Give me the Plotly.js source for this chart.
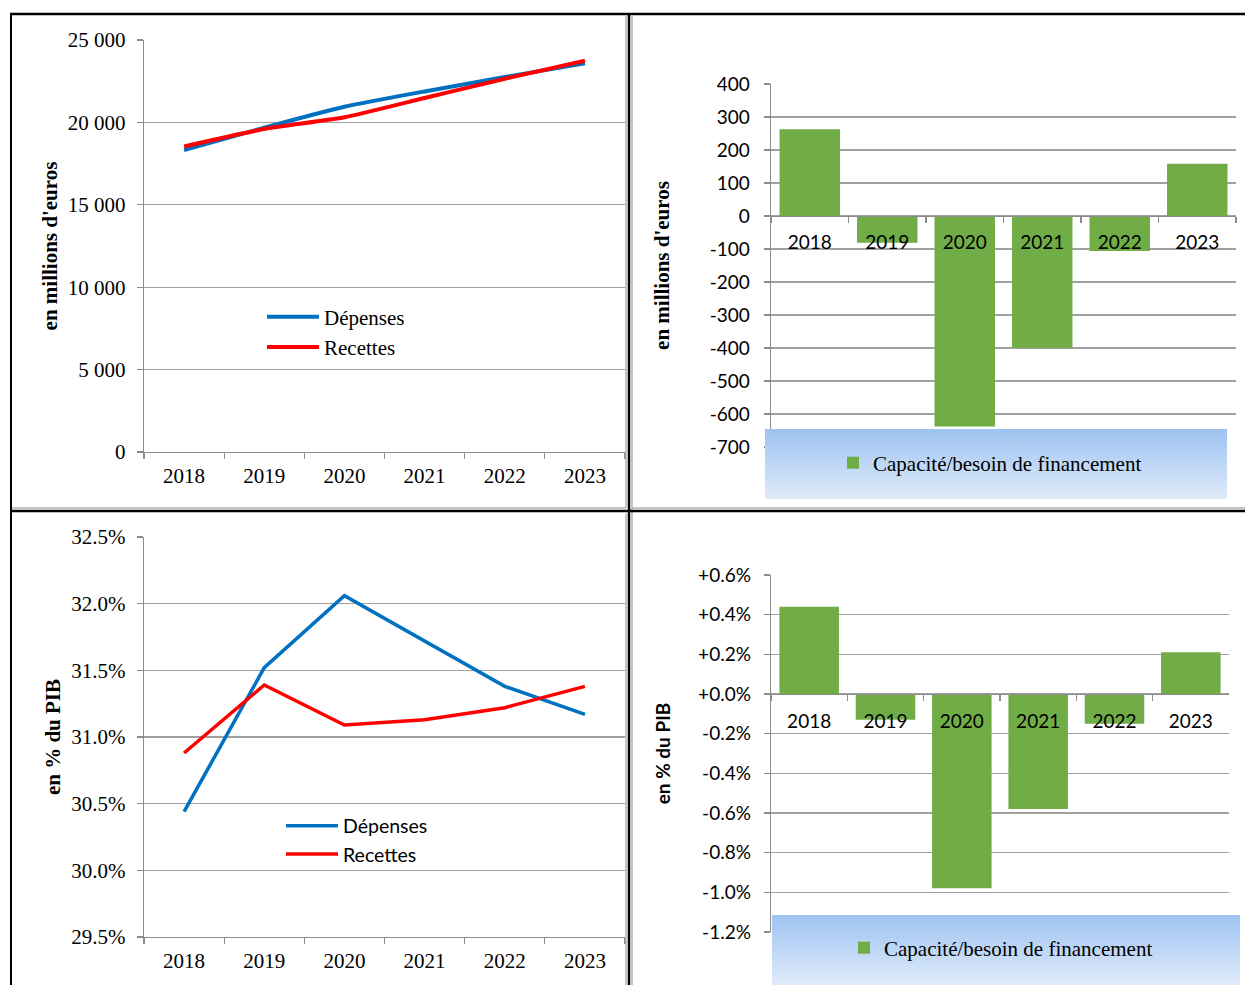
<!DOCTYPE html>
<html>
<head>
<meta charset="utf-8">
<script src="https://cdn.plot.ly/plotly-3.0.1.min.js"></script>
<style>
  html, body { margin: 0; padding: 0; background: #ffffff; }
  #chart { width: 1245px; height: 985px; }
</style>
</head>
<body>
<div id="chart"></div>
<script>
// ---------- DATA ----------
const years = ['2018', '2019', '2020', '2021', '2022', '2023'];

// Top-left: en millions d'euros
const depensesM = [18320, 19680, 20950, 21880, 22750, 23580];
const recettesM = [18540, 19600, 20310, 21480, 22650, 23740];

// Top-right: capacité/besoin de financement, en millions d'euros
const soldeM = [263, -81, -638, -400, -106, 158];

// Bottom-left: en % du PIB
const depensesP = [30.44, 31.52, 32.06, 31.72, 31.38, 31.17];
const recettesP = [30.88, 31.39, 31.09, 31.13, 31.22, 31.38];

// Bottom-right: capacité/besoin de financement, en % du PIB
const soldeP = [0.44, -0.13, -0.98, -0.58, -0.15, 0.21];

// Tick labels
const tickValsM = [0, 5000, 10000, 15000, 20000, 25000];
const tickTextM = ['0', '5 000', '10 000', '15 000', '20 000', '25 000'];
const tickValsSoldeM = [-700, -600, -500, -400, -300, -200, -100, 0, 100, 200, 300, 400];
const tickTextSoldeM = ['-700', '-600', '-500', '-400', '-300', '-200', '-100', '0', '100', '200', '300', '400'];
const tickValsP = [29.5, 30.0, 30.5, 31.0, 31.5, 32.0, 32.5];
const tickTextP = ['29.5%', '30.0%', '30.5%', '31.0%', '31.5%', '32.0%', '32.5%'];
const tickValsSoldeP = [-1.2, -1.0, -0.8, -0.6, -0.4, -0.2, 0.0, 0.2, 0.4, 0.6];
const tickTextSoldeP = ['-1.2%', '-1.0%', '-0.8%', '-0.6%', '-0.4%', '-0.2%', '+0.0%', '+0.2%', '+0.4%', '+0.6%'];

const nameDep = 'Dépenses';
const nameRec = 'Recettes';
const nameSolde = 'Capacité/besoin de financement';

// ---------- LAYOUT HELPERS ----------
const W = 1245, H = 985;
const px = x => x / W;
const py = y => 1 - y / H;

const SERIF = 'Liberation Serif, Times New Roman, serif';
const SANS = 'Lato, Carlito, Calibri, sans-serif';
const BLUE = '#0070c0';
const RED = '#ff0000';
const GREEN = '#70ad47';
const GRID = '#a0a0a0';
const AXIS = '#8c8c8c';

const gradSvg = "<svg xmlns='http://www.w3.org/2000/svg' width='100' height='100'>" +
  "<defs><linearGradient id='g' x1='0' y1='0' x2='0' y2='1'>" +
  "<stop offset='0' stop-color='#9dc3f1'/><stop offset='1' stop-color='#e0ebfa'/>" +
  "</linearGradient></defs><rect width='100' height='100' fill='url(#g)'/></svg>";
const gradUrl = 'data:image/svg+xml;charset=utf-8,' + encodeURIComponent(gradSvg);

function catAxis(domainPx, anchor, font, standoff) {
  return {
    type: 'category', domain: [px(domainPx[0]), px(domainPx[1])], anchor: anchor,
    range: [-0.5, 5.5], showgrid: false, zeroline: false,
    showline: true, linecolor: AXIS, linewidth: 1.3,
    ticks: 'outside', tickson: 'boundaries', ticklen: 6, tickcolor: AXIS, tickwidth: 1.3,
    tickfont: font, ticklabelstandoff: standoff, fixedrange: true
  };
}
function valAxis(domainPx, anchor, range, vals, text, font, title, standoff) {
  return {
    domain: [py(domainPx[1]), py(domainPx[0])], anchor: anchor, range: range,
    tickmode: 'array', tickvals: vals, ticktext: text,
    showgrid: true, gridcolor: GRID, gridwidth: 1.3, zeroline: false,
    showline: true, linecolor: AXIS, linewidth: 1.3,
    ticks: 'outside', ticklen: 6, tickcolor: AXIS, tickwidth: 1.3,
    tickfont: font, ticklabelstandoff: standoff, title: title, fixedrange: true
  };
}

// ---------- TRACES ----------
const traces = [
  { type: 'scatter', mode: 'lines', x: years, y: depensesM, name: nameDep, xaxis: 'x', yaxis: 'y',
    line: { color: BLUE, width: 4, shape: 'spline', smoothing: 0.5 }, legend: 'legend' },
  { type: 'scatter', mode: 'lines', x: years, y: recettesM, name: nameRec, xaxis: 'x', yaxis: 'y',
    line: { color: RED, width: 4, shape: 'spline', smoothing: 0.5 }, legend: 'legend' },
  { type: 'bar', x: years, y: soldeM, name: nameSolde, xaxis: 'x2', yaxis: 'y2',
    marker: { color: GREEN }, showlegend: true, legend: 'legend2' },
  { type: 'scatter', mode: 'lines', x: years, y: depensesP, name: nameDep, xaxis: 'x3', yaxis: 'y3',
    line: { color: BLUE, width: 3.5 }, legend: 'legend3' },
  { type: 'scatter', mode: 'lines', x: years, y: recettesP, name: nameRec, xaxis: 'x3', yaxis: 'y3',
    line: { color: RED, width: 3.5 }, legend: 'legend3' },
  { type: 'bar', x: years, y: soldeP, name: nameSolde, xaxis: 'x4', yaxis: 'y4',
    marker: { color: GREEN }, showlegend: true, legend: 'legend4' }
];

const serif21 = { family: SERIF, size: 21, color: '#000' };
const sans19 = { family: SANS, size: 19, color: '#000' };

// ---------- LAYOUT ----------
const layout = {
  width: W, height: H,
  margin: { l: 0, r: 0, t: 0, b: 0 },
  paper_bgcolor: '#ffffff', plot_bgcolor: 'rgba(0,0,0,0)',
  bargap: 0.22,
  showlegend: true,
  font: { family: SERIF, color: '#000' },

  xaxis: catAxis([144, 625], 'y', serif21, 4),
  yaxis: valAxis([40, 452], 'x', [0, 25000], tickValsM, tickTextM, serif21,
    { text: "<b>en millions d'euros</b>", font: { family: SERIF, size: 21 }, standoff: 4 }, 7),

  xaxis2: Object.assign(catAxis([771, 1236], 'free', sans19, 9), { position: py(216) }),
  yaxis2: valAxis([84, 447], 'x2', [-700, 400], tickValsSoldeM, tickTextSoldeM, sans19,
    { text: "<b>en millions d'euros</b>", font: { family: SERIF, size: 21 }, standoff: 34 }, 10),

  xaxis3: catAxis([144, 625], 'y3', serif21, 4),
  yaxis3: valAxis([537, 937], 'x3', [29.5, 32.5], tickValsP, tickTextP, serif21,
    { text: '<b>en % du PIB</b>', font: { family: SERIF, size: 21 }, standoff: 5 }, 7),

  xaxis4: Object.assign(catAxis([771, 1229], 'free', sans19, 10), { position: py(694) }),
  yaxis4: valAxis([575, 932], 'x4', [-1.2, 0.6], tickValsSoldeP, tickTextSoldeP, sans19,
    { text: '<b>en % du PIB</b>', font: { family: SANS, size: 19 }, standoff: 22 }, 9),

  legend: { x: px(262), xanchor: 'left', y: py(332), yanchor: 'middle',
    bgcolor: 'rgba(0,0,0,0)', borderwidth: 0, font: serif21, itemwidth: 52, tracegroupgap: 0 },
  legend2: { x: px(990), xanchor: 'center', y: py(463), yanchor: 'middle',
    bgcolor: 'rgba(0,0,0,0)', borderwidth: 0, font: serif21, itemwidth: 30 },
  legend3: { x: px(281), xanchor: 'left', y: py(840), yanchor: 'middle',
    bgcolor: 'rgba(0,0,0,0)', borderwidth: 0, font: { family: SANS, size: 19.5, color: '#000' }, itemwidth: 52 },
  legend4: { x: px(1001), xanchor: 'center', y: py(948), yanchor: 'middle',
    bgcolor: 'rgba(0,0,0,0)', borderwidth: 0, font: serif21, itemwidth: 30 },

  images: [
    { source: gradUrl, xref: 'paper', yref: 'paper', x: px(765), y: py(429), sizex: px(1227) - px(765),
      sizey: py(429) - py(499), xanchor: 'left', yanchor: 'top', sizing: 'stretch', layer: 'above' },
    { source: gradUrl, xref: 'paper', yref: 'paper', x: px(772), y: py(915), sizex: px(1240) - px(772),
      sizey: py(915) - py(985), xanchor: 'left', yanchor: 'top', sizing: 'stretch', layer: 'above' }
  ],

  shapes: [
    // light grey chart-area borders
    { type: 'line', xref: 'paper', yref: 'paper', x0: px(626), x1: px(626), y0: py(16), y1: py(508), line: { color: '#b0b0b0', width: 1.5 } },
    { type: 'line', xref: 'paper', yref: 'paper', x0: px(12), x1: px(626), y0: py(508), y1: py(508), line: { color: '#b0b0b0', width: 1.5 } },
    { type: 'line', xref: 'paper', yref: 'paper', x0: px(632), x1: px(632), y0: py(16), y1: py(985), line: { color: '#b0b0b0', width: 1.5 } },
    { type: 'line', xref: 'paper', yref: 'paper', x0: px(632), x1: px(1245), y0: py(508), y1: py(508), line: { color: '#b0b0b0', width: 1.5 } },
    { type: 'line', xref: 'paper', yref: 'paper', x0: px(626), x1: px(626), y0: py(514), y1: py(985), line: { color: '#b0b0b0', width: 1.5 } },
    // black table frame
    { type: 'line', xref: 'paper', yref: 'paper', x0: px(10), x1: px(1245), y0: py(14), y1: py(14), line: { color: '#000', width: 2.5 } },
    { type: 'line', xref: 'paper', yref: 'paper', x0: px(11), x1: px(11), y0: py(13), y1: py(985), line: { color: '#000', width: 2 } },
    { type: 'line', xref: 'paper', yref: 'paper', x0: px(629), x1: px(629), y0: py(13), y1: py(985), line: { color: '#000', width: 2.5 } },
    { type: 'line', xref: 'paper', yref: 'paper', x0: px(10), x1: px(1245), y0: py(511), y1: py(511), line: { color: '#000', width: 2.5 } }
  ]
};

Plotly.newPlot('chart', traces, layout, { staticPlot: true, displayModeBar: false });
</script>
</body>
</html>
